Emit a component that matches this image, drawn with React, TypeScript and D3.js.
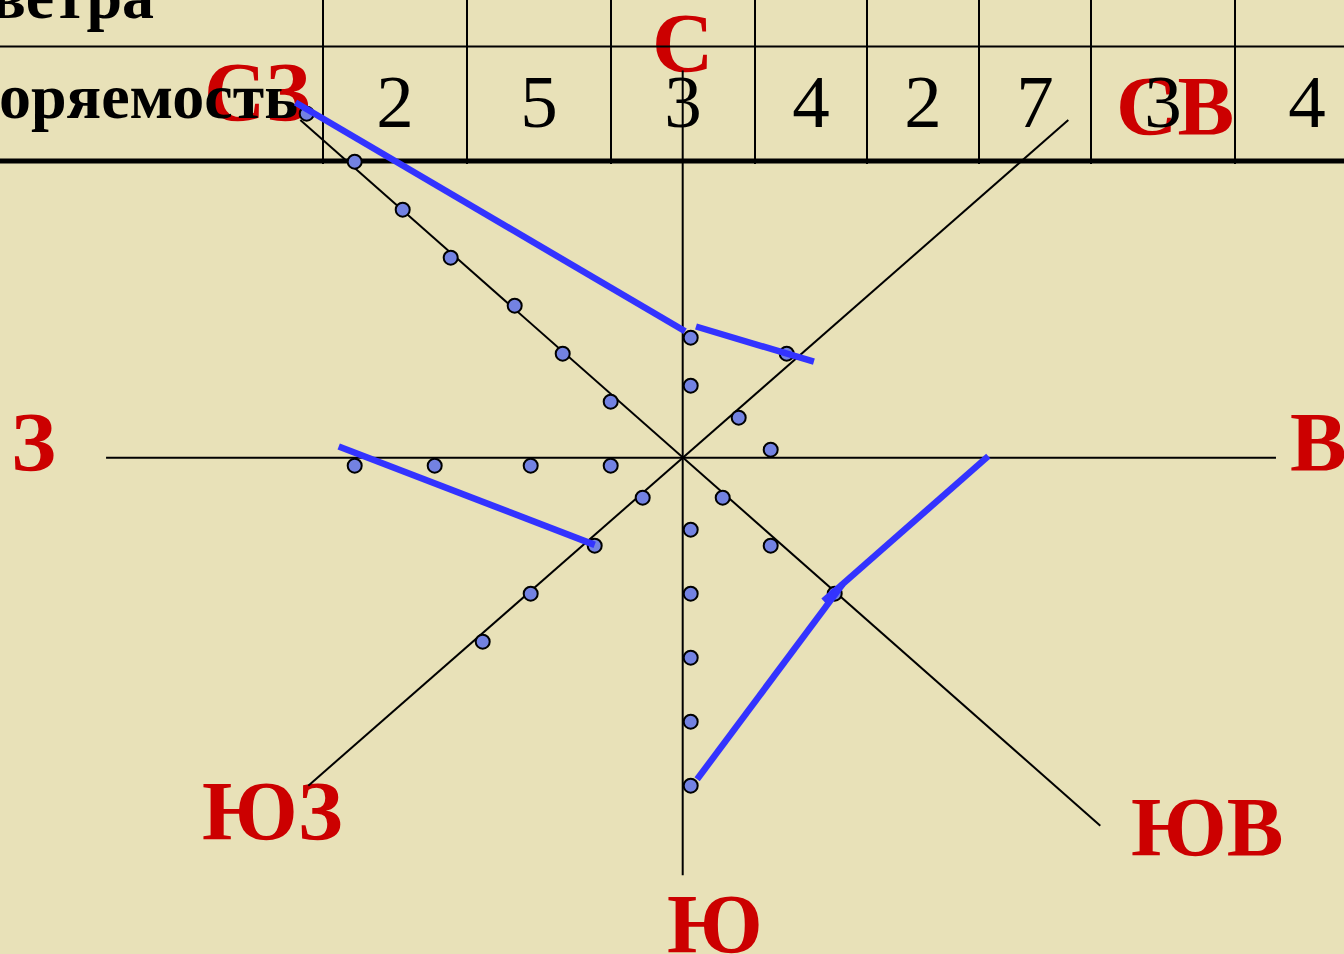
import React from 'react';
import * as d3 from 'd3';

// table row: wind repeatability by direction
const frequency = [2, 5, 3, 4, 2, 7, 3, 4];
const colWidths = [144, 144, 144, 112, 112, 112, 144, 144];

// dots drawn along each ray, in grid units (1 unit = 16px) from the centre
const dotsN = [[0.5, -7.5], [0.5, -4.5]];
const dotsNE = [[3.5, -2.5], [6.5, -6.5]];
const dotsE = [[5.5, -0.5]];
const dotsSE = [[2.5, 2.5], [5.5, 5.5], [9.5, 8.5]];
const dotsS = [[0.5, 4.5], [0.5, 8.5], [0.5, 12.5], [0.5, 16.5], [0.5, 20.5]];
const dotsSW = [[-2.5, 2.5], [-5.5, 5.5], [-9.5, 8.5], [-12.5, 11.5]];
const dotsW = [[-4.5, 0.5], [-9.5, 0.5], [-15.5, 0.5], [-20.5, 0.5]];
const dotsNW = [[-4.5, -3.5], [-7.5, -6.5], [-10.5, -9.5], [-14.5, -12.5], [-17.5, -15.5], [-20.5, -18.5], [-23.5, -21.5]];

// blue rose outline (unfinished), segment by segment
const roseSegments = [
  [[-24.2, -22.2], [0.15, -7.9]],
  [[0.83, -8.2], [8.2, -6.0]],
  [[-21.5, -0.7], [-5.5, 5.45]],
  [[19.1, -0.1], [8.8, 8.95]],
  [[10.0, 7.9], [0.9, 20.1]],
];

// axis rays
const axes = [
  [[-36.04, 0], [37.08, 0]],
  [[0, -24.2], [0, 26.1]],
  [[-23.9, -21.1], [26.1, 23.0]],
  [[24.1, -21.1], [-23.4, 20.5]],
];

// direction labels: text, left x, baseline y
const dirLabels = [
  ['С', 652, 72],
  ['СВ', 1116, 135],
  ['В', 1290, 471],
  ['ЮВ', 1131, 856],
  ['Ю', 667, 953],
  ['ЮЗ', 202, 840],
  ['З', 11, 471],
  ['СЗ', 204, 121],
];

const W = 1344, H = 954;
const CX = 682.7, CY = 457.7, UNIT = 16;

const App = () => {
  const x = d3.scaleLinear().domain([0, 1]).range([CX, CX + UNIT]);
  const y = d3.scaleLinear().domain([0, 1]).range([CY, CY + UNIT]);
  const line = d3.line().x(d => x(d[0])).y(d => y(d[1]));

  const edges = [323, ...Array.from(d3.cumsum(colWidths), c => 323 + c)];
  const allDots = [...dotsN, ...dotsNE, ...dotsE, ...dotsSE, ...dotsS, ...dotsSW, ...dotsW, ...dotsNW];
  const serif = '"Liberation Serif", "Times New Roman", serif';

  return (
    <svg width={W} height={H} style={{ position: 'absolute', left: 0, top: 0, display: 'block' }}>
      <rect width={W} height={H} fill='#e8e1b8' />

      {/* direction labels */}
      {dirLabels.map(([t, lx, ly], i) => (
        <text key={i} x={lx} y={ly} fill='#cc0000' fontFamily={serif} fontWeight='bold' fontSize={85}>{t}</text>
      ))}

      {/* table */}
      <g>
        <line x1={0} x2={W} y1={46.5} y2={46.5} stroke='#000' strokeWidth={2} />
        <line x1={0} x2={W} y1={161} y2={161} stroke='#000' strokeWidth={5} />
        {edges.map((e, i) => (
          <line key={i} x1={e} x2={e} y1={0} y2={164} stroke='#000' strokeWidth={2} />
        ))}
        <text x={154} y={18} textAnchor='end' fontFamily={serif} fontWeight='bold' fontSize={64}>Направление ветра</text>
        <text x={298} y={118} textAnchor='end' fontFamily={serif} fontWeight='bold' fontSize={64}>Повторяемость</text>
        {frequency.map((v, i) => (
          <text key={i} x={(edges[i] + edges[i + 1]) / 2} y={127} textAnchor='middle' fontFamily={serif} fontSize={75}>{v}</text>
        ))}
      </g>

      {/* axes */}
      {axes.map((a, i) => (
        <path key={i} d={line(a)} stroke='#000' strokeWidth={2} fill='none' />
      ))}

      {/* dots */}
      {allDots.map((d, i) => (
        <circle key={i} cx={x(d[0])} cy={y(d[1])} r={7} fill='#7382e2' stroke='#000' strokeWidth={2} />
      ))}

      {/* rose outline */}
      {roseSegments.map((s, i) => (
        <path key={i} d={line(s)} stroke='#3333ff' strokeWidth={6.5} fill='none' />
      ))}
    </svg>
  );
};

export default App;
